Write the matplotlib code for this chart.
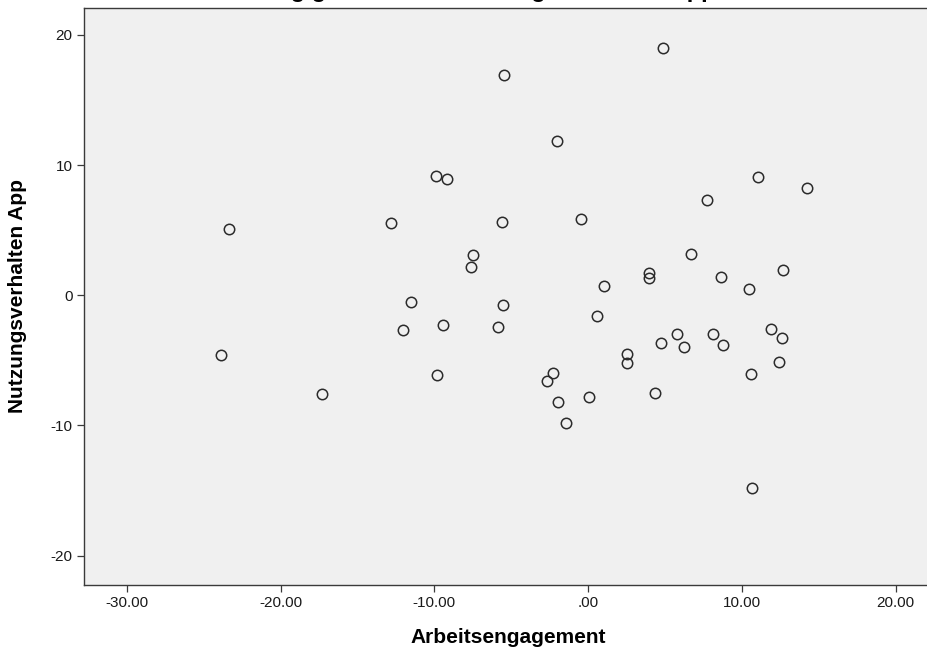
import matplotlib.pyplot as plt
from matplotlib.ticker import FuncFormatter

# ----------------- DATA -----------------
# partial regression scatter
arbeitsengagement = [
    -23.33, -23.85, -17.31, -12.82, -11.52, -12.02, -9.88, -9.16, -9.44, -9.85,
    -7.51, -7.60, -5.48, -5.61, -5.54, -5.87, -2.01, -0.49, -2.68, -2.27,
    -1.99, -1.45, 0.05, 1.00, 0.58, 2.50, 2.50, 3.96, 3.96, 4.71,
    4.32, 4.84, 5.76, 6.24, 6.69, 7.70, 8.10, 8.64, 8.77, 10.46,
    10.56, 10.64, 11.03, 11.89, 12.61, 12.44, 12.65, 14.23,
]
nutzungsverhalten = [
    5.12, -4.56, -7.58, 5.53, -0.51, -2.66, 9.15, 8.94, -2.28, -6.12,
    3.10, 2.20, 16.93, 5.61, -0.76, -2.41, 11.86, 5.89, -6.56, -5.94,
    -8.19, -9.83, -7.83, 0.74, -1.61, -4.48, -5.22, 1.69, 1.31, -3.66,
    -7.52, 19.02, -2.95, -3.94, 3.20, 7.30, -2.95, 1.43, -3.84, 0.49,
    -6.02, -14.80, 9.07, -2.56, -3.30, -5.14, 1.92, 8.22,
]
x_ticks = [-30, -20, -10, 0, 10, 20]
y_ticks = [-20, -10, 0, 10, 20]

title_line = "Abhängige Variable: Nutzungsverhalten App"
x_label = "Arbeitsengagement"
y_label = "Nutzungsverhalten App"

# ----------------- PLOT -----------------
plt.rcParams['font.family'] = ['Liberation Sans', 'DejaVu Sans']
plt.rcParams['axes.unicode_minus'] = False

fig = plt.figure(figsize=(9.28, 6.58), dpi=100)
ax = fig.add_axes([0.09, 0.111, 0.915, 0.877])
ax.set_facecolor('#f0f0f0')

ax.plot(arbeitsengagement, nutzungsverhalten, 'o', ls='none', ms=7.5,
        mfc='none', mec='#2b2b2b', mew=1.1, zorder=3)

ax.set_xlim(-32.81, 22.4)
ax.set_ylim(-22.25, 22.07)
ax.set_xticks(x_ticks)
ax.set_yticks(y_ticks)

def fmt_x(v, pos):
    s = f"{v:.2f}"
    return ".00" if s in ("0.00", "-0.00") else s

ax.xaxis.set_major_formatter(FuncFormatter(fmt_x))
ax.yaxis.set_major_formatter(FuncFormatter(lambda v, p: f"{int(round(v))}"))

for side in ['left', 'bottom', 'top']:
    ax.spines[side].set_color('#3a3a3a')
    ax.spines[side].set_linewidth(1.0)
ax.spines['right'].set_visible(False)

ax.tick_params(axis='both', direction='out', length=5, width=0.9,
               color='#3a3a3a', labelsize=11, labelcolor='#1a1a1a', pad=3)

ax.set_xlabel(x_label, fontsize=15, fontweight='bold')
ax.xaxis.set_label_coords(0.5, -0.074)
ax.set_ylabel(y_label, fontsize=15, fontweight='bold')
ax.yaxis.label.set_va('center')
ax.yaxis.set_label_coords(-0.078, 0.5)

# title sits mostly above the visible canvas, only descenders show
fig.text(0.502, 1 + 2.5 / 658, title_line, ha='center', va='baseline',
         fontsize=17, fontweight='bold')

fig.savefig("out.png", dpi=100)
